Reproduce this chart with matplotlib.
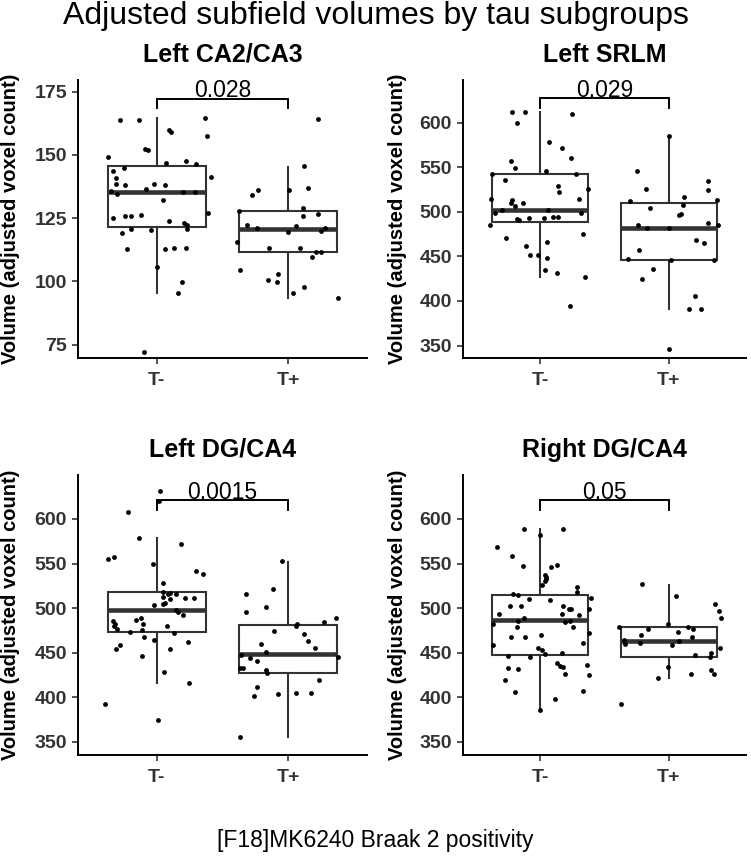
"""
Adjusted subfield volumes by tau subgroups
4 panel boxplot + jitter, ggplot-like style
"""

import matplotlib
import matplotlib.pyplot as plt

matplotlib.use("Agg")

plt.rcParams["font.family"] = ["Liberation Sans", "DejaVu Sans"]

groups = ["T-", "T+"]
titles = ["Left CA2/CA3", "Left SRLM", "Left DG/CA4", "Right DG/CA4"]
p_values = ["0.028", "0.029", "0.0015", "0.05"]
bracket_y = [172.2, 627.3, 621.3, 621.3]
y_limits = [(69.7, 179.6), (336.0, 648.0), (335.4, 649.3), (335.4, 649.3)]
y_ticks = [
    [75, 100, 125, 150, 175],
    [350, 400, 450, 500, 550, 600],
    [350, 400, 450, 500, 550, 600],
    [350, 400, 450, 500, 550, 600],
]

# box stats per panel, per group: (whislo, q1, med, q3, whishi)
box_stats = [
    [(95.4, 121.4, 135.5, 145.7, 164.5), (93.4, 111.7, 120.7, 127.9, 145.4)],
    [(427.0, 488.3, 502.5, 542.1, 611.6), (391.1, 446.0, 481.5, 509.9, 585.1)],
    [(416.5, 472.9, 498.4, 517.8, 578.3), (355.2, 427.7, 449.0, 481.5, 552.2)],
    [(385.9, 447.5, 486.4, 514.8, 588.4), (422.1, 444.9, 462.9, 478.9, 526.0)],
]

# ---- Left CA2/CA3 ----
ca3_neg = [149.1, 163.8, 163.6, 143.8, 145.0, 140.7, 138.6, 138.0, 135.9, 134.6,
           152.4, 151.8, 136.7, 138.3, 138.0, 146.6, 159.9, 159.2, 147.5, 146.2,
           164.7, 157.6, 141.4, 135.4, 135.4, 132.0, 125.1, 125.9, 125.9, 126.4,
           127.2, 124.0, 122.9, 122.2, 120.8, 119.2, 120.7, 120.3, 112.9, 112.8,
           113.3, 113.3, 105.7, 99.6, 95.3, 72.1]
ca3_neg_jit = [-0.37, -0.283, -0.135, -0.33, -0.25, -0.31, -0.31, -0.245, -0.35, -0.30,
               -0.09, -0.064, -0.08, -0.02, 0.06, 0.07, 0.094, 0.11, 0.22, 0.30,
               0.37, 0.38, 0.41, 0.20, 0.29, 0.05, -0.33, -0.24, -0.196, -0.117,
               0.39, 0.09, 0.21, 0.23, 0.23, -0.265, -0.196, -0.046, -0.227, 0.066,
               0.128, 0.224, 0.0, 0.19, 0.16, -0.10]
ca3_pos = [164.2, 145.5, 134.0, 136.3, 136.2, 136.8, 129.1, 125.7, 126.6, 128.0,
           122.2, 121.2, 121.8, 119.6, 119.9, 120.9, 115.7, 113.3, 113.0, 111.8,
           111.8, 109.8, 104.6, 100.7, 99.9, 102.9, 95.3, 97.9, 93.3]
ca3_pos_jit = [0.23, 0.12, -0.275, -0.23, 0.005, 0.153, 0.115, 0.11, 0.23, -0.375,
               -0.31, -0.24, 0.056, -0.005, 0.25, 0.28, -0.39, -0.148, 0.087, 0.21,
               0.25, 0.18, -0.37, -0.15, -0.087, -0.077, 0.033, 0.12, 0.38]

# ---- Left SRLM ----
srlm_neg = [612.0, 611.6, 599.3, 609.7, 578.3, 571.6, 560.0, 557.4, 548.8, 545.4,
            542.1, 542.1, 535.7, 528.6, 522.3, 526.0, 514.4, 513.3, 514.4, 509.6,
            509.6, 506.6, 502.5, 502.5, 498.4, 499.1, 492.4, 490.9, 493.5, 493.1,
            493.9, 494.6, 485.3, 470.7, 475.2, 461.4, 465.8, 452.0, 451.6, 447.9,
            435.2, 431.5, 426.6, 394.8]
srlm_neg_jit = [-0.22, -0.12, -0.178, 0.247, 0.069, 0.168, 0.24, -0.226, -0.196, 0.046,
                -0.377, 0.275, -0.27, 0.14, 0.145, 0.374, -0.38, -0.219, 0.298, -0.23,
                -0.137, -0.196, -0.298, 0.064, -0.35, 0.32, -0.18, -0.168, -0.087, 0.028,
                0.097, 0.137, -0.39, -0.267, 0.333, -0.112, 0.053, -0.076, -0.015, 0.051,
                0.036, 0.13, 0.349, 0.23]
srlm_pos = [585.1, 545.8, 525.3, 534.6, 513.7, 511.8, 524.5, 516.7, 504.0, 507.3,
            496.9, 498.0, 484.9, 482.3, 481.5, 487.1, 484.9, 468.8, 464.7, 457.2,
            446.8, 446.0, 446.0, 436.3, 425.1, 406.0, 391.1, 391.1, 345.9]
srlm_pos_jit = [0.005, -0.25, -0.178, 0.305, 0.377, -0.30, 0.303, 0.12, -0.148, 0.107,
                0.076, 0.092, -0.24, -0.173, 0.0, 0.303, 0.384, 0.209, 0.277, -0.232,
                -0.316, 0.018, 0.349, -0.122, -0.21, 0.206, 0.158, 0.247, 0.0]

# ---- Left DG/CA4 ----
ldg_neg = [631.0, 620.6, 608.2, 579.1, 572.3, 555.2, 557.4, 549.9, 541.7, 538.7,
           528.6, 518.5, 517.0, 515.9, 512.9, 515.9, 511.1, 511.8, 510.0, 505.8,
           504.0, 504.3, 497.6, 495.7, 492.0, 485.3, 486.8, 489.0, 482.3, 479.7,
           477.1, 481.9, 480.4, 473.3, 475.2, 471.8, 467.7, 464.4, 459.1, 462.1,
           454.3, 454.3, 446.8, 428.1, 416.1, 393.0, 374.3]
ldg_neg_jit = [0.026, 0.02, -0.22, -0.138, 0.186, -0.37, -0.327, -0.026, 0.30, 0.355,
               0.05, 0.046, 0.10, 0.087, 0.05, 0.148, 0.214, 0.283, 0.10, 0.064,
               -0.02, 0.05, 0.145, 0.158, 0.196, -0.33, -0.16, -0.12, -0.316, -0.324,
               -0.30, -0.105, 0.08, -0.204, -0.112, 0.13, -0.10, -0.023, -0.283, 0.235,
               -0.314, 0.10, -0.112, 0.054, 0.242, -0.395, 0.01]
ldg_pos = [553.3, 521.2, 515.9, 501.0, 495.4, 489.0, 484.9, 482.7, 479.7, 474.1,
           471.4, 463.6, 455.8, 459.9, 451.0, 447.2, 444.9, 444.6, 432.6, 432.6,
           440.8, 430.8, 427.0, 419.5, 412.0, 401.6, 403.8, 405.3, 405.3, 355.2]
ldg_pos_jit = [-0.05, -0.115, -0.324, -0.171, -0.319, 0.365, 0.273, 0.066, 0.059, -0.107,
               0.122, 0.15, 0.207, -0.204, -0.168, -0.357, 0.378, -0.29, -0.367, -0.342,
               -0.235, -0.168, -0.163, 0.237, -0.235, -0.263, -0.074, 0.056, 0.173, -0.365]

# ---- Right DG/CA4 ----
rdg_neg = [588.8, 589.2, 581.7, 568.6, 558.9, 547.7, 548.1, 545.8, 537.2, 535.4,
           533.1, 530.9, 526.0, 523.8, 517.8, 515.9, 514.4, 511.8, 510.3, 508.8,
           493.9, 502.5, 502.1, 502.8, 498.7, 499.1, 499.1, 493.9, 492.0, 489.0,
           486.0, 481.9, 484.5, 485.6, 479.3, 478.5, 467.3, 467.7, 469.6, 471.8,
           460.6, 458.4, 455.8, 453.1, 448.7, 450.1, 446.4, 445.7, 438.2, 435.2,
           434.5, 436.3, 432.6, 432.2, 426.6, 424.7, 419.5, 406.1, 407.6, 397.8,
           386.2]
rdg_neg_jit = [-0.127, 0.178, -0.005, -0.338, -0.216, -0.135, 0.13, 0.084, 0.038, 0.046,
               0.048, 0.036, 0.018, 0.29, 0.29, -0.214, -0.176, 0.397, -0.089, 0.076,
               -0.318, -0.231, -0.15, 0.178, 0.221, 0.242, 0.377, 0.173, 0.298, -0.122,
               -0.17, -0.364, 0.196, 0.229, 0.257, -0.18, -0.226, -0.115, 0.008, 0.379,
               0.33, -0.369, -0.02, 0.013, 0.038, 0.17, -0.249, -0.079, 0.132, 0.153,
               0.178, 0.364, -0.254, -0.17, 0.191, 0.379, -0.277, -0.196, 0.336, 0.117,
               -0.005]
rdg_pos = [526.8, 513.7, 505.1, 496.9, 489.4, 478.9, 482.3, 477.1, 479.3, 476.3,
           473.3, 469.6, 464.4, 459.9, 461.0, 463.2, 458.4, 467.3, 455.4, 449.4,
           445.7, 447.2, 434.1, 422.1, 426.2, 430.7, 426.2, 392.6]
rdg_pos_jit = [-0.211, 0.059, 0.356, 0.39, 0.405, -0.39, -0.005, -0.158, 0.148, 0.19,
               0.071, -0.216, -0.346, -0.338, -0.224, 0.079, 0.025, 0.178, 0.394, 0.328,
               0.32, 0.206, -0.008, -0.084, 0.17, 0.328, 0.349, -0.369]

panel_points = [
    [(ca3_neg, ca3_neg_jit), (ca3_pos, ca3_pos_jit)],
    [(srlm_neg, srlm_neg_jit), (srlm_pos, srlm_pos_jit)],
    [(ldg_neg, ldg_neg_jit), (ldg_pos, ldg_pos_jit)],
    [(rdg_neg, rdg_neg_jit), (rdg_pos, rdg_pos_jit)],
]

W, H = 751, 856
# axes rectangles in pixels: left, top, right, bottom
ax_px = [
    (78, 80, 367, 358),
    (463, 80, 746, 358),
    (78, 475, 367, 755),
    (463, 475, 746, 755),
]
# right edge (px) of the rotated y label
ylabel_right = [20, 407, 20, 407]

fig = plt.figure(figsize=(W / 100, H / 100), dpi=100)

for i in range(4):
    l, t, r, b = ax_px[i]
    ax = fig.add_axes([l / W, 1 - b / H, (r - l) / W, (b - t) / H])

    stats = []
    for g in range(2):
        lo, q1, med, q3, hi = box_stats[i][g]
        stats.append({"whislo": lo, "q1": q1, "med": med, "q3": q3, "whishi": hi, "fliers": []})
    ax.bxp(stats, positions=[1, 2], widths=0.75, showfliers=False, showcaps=False,
           patch_artist=True,
           boxprops=dict(facecolor="white", edgecolor="#333333", linewidth=1.5),
           whiskerprops=dict(color="#333333", linewidth=1.5),
           medianprops=dict(color="#333333", linewidth=3.3, solid_capstyle="butt"),
           zorder=1)

    for g in range(2):
        vals, jit = panel_points[i][g]
        xs = [g + 1 + j for j in jit]
        ax.scatter(xs, vals, s=12, color="black", linewidths=0, zorder=3)

    # significance bracket
    y0, y1 = y_limits[i]
    drop = 0.035 * (y1 - y0)
    by = bracket_y[i]
    ax.plot([1, 1, 2, 2], [by - drop, by, by, by - drop], color="black", lw=1.4,
            solid_joinstyle="miter", zorder=4)
    ax.annotate(p_values[i], (1.5, by), textcoords="offset points", xytext=(0, 1),
                ha="center", va="baseline", fontsize=16.5, zorder=5)

    ax.set_xlim(0.4, 2.6)
    ax.set_ylim(y0, y1)
    ax.set_yticks(y_ticks[i])
    ax.set_xticks([1, 2])
    ax.set_xticklabels(groups)
    for s in ["top", "right"]:
        ax.spines[s].set_visible(False)
    for s in ["left", "bottom"]:
        ax.spines[s].set_linewidth(1.4)
        ax.spines[s].set_color("black")
    ax.tick_params(axis="both", direction="out", length=4, width=1.2, color="#333333",
                   labelsize=14, labelcolor="#333333")
    ax.tick_params(axis="x", pad=6)
    ax.tick_params(axis="y", pad=4)
    for lab in ax.get_xticklabels() + ax.get_yticklabels():
        lab.set_fontweight("bold")

    ax.set_title(titles[i], fontsize=18, fontweight="bold", pad=13)
    ax.set_ylabel("Volume (adjusted voxel count)", fontsize=14.5, fontweight="bold")
    ax.yaxis.set_label_coords(-(l - ylabel_right[i]) / (r - l), 0.5)

fig.text(0.5, 1 - 24 / H, "Adjusted subfield volumes by tau subgroups",
         ha="center", va="baseline", fontsize=23)
fig.text(0.5, 1 - 847 / H, "[F18]MK6240 Braak 2 positivity",
         ha="center", va="baseline", fontsize=16.5)

fig.savefig("out.png", dpi=100)
